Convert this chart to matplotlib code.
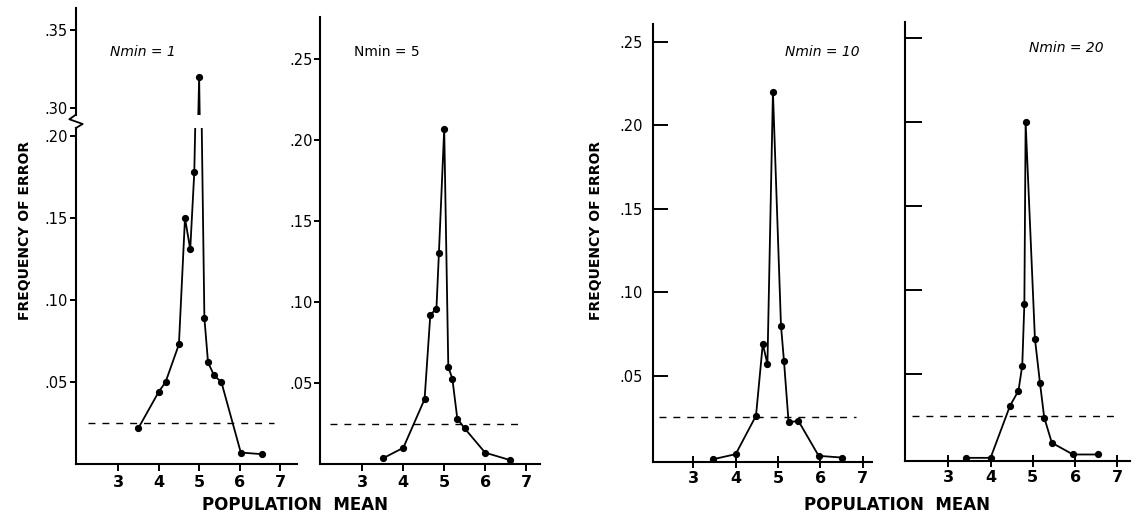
import matplotlib
matplotlib.use('Agg')
import matplotlib.pyplot as plt
from matplotlib.lines import Line2D

# ---- data ----
n1_x = [3.5, 4.0, 4.17, 4.5, 4.65, 4.78, 4.88, 5.0, 5.13, 5.22, 5.37, 5.55, 6.03, 6.55]
n1_y = [0.022, 0.044, 0.050, 0.073, 0.150, 0.131, 0.178, 0.320, 0.089, 0.062, 0.054, 0.050, 0.007, 0.006]

n5_x = [3.5, 4.0, 4.52, 4.66, 4.81, 4.87, 5.0, 5.1, 5.2, 5.32, 5.5, 6.0, 6.6]
n5_y = [0.0035, 0.010, 0.040, 0.092, 0.096, 0.130, 0.207, 0.060, 0.0525, 0.028, 0.022, 0.007, 0.0025]

n10_x = [3.47, 4.0, 4.48, 4.64, 4.75, 4.88, 5.07, 5.14, 5.25, 5.48, 5.96, 6.5]
n10_y = [0.0, 0.003, 0.026, 0.069, 0.057, 0.220, 0.080, 0.059, 0.022, 0.023, 0.002, 0.001]

n20_x = [3.42, 4.0, 4.46, 4.66, 4.75, 4.80, 4.83, 5.05, 5.17, 5.27, 5.45, 5.95, 6.55]
n20_y = [0.0, 0.0, 0.031, 0.040, 0.055, 0.092, 0.200, 0.071, 0.0445, 0.024, 0.009, 0.002, 0.002]

labels = ['Nmin = 1', 'Nmin = 5', 'Nmin = 10', 'Nmin = 20']
threshold = 0.025
dash_spans = [(2.25, 6.85), (2.2, 6.8), (2.2, 6.85), (2.15, 7.0)]
x_ticks = [3, 4, 5, 6, 7]
y_ticks = [0.05, 0.10, 0.15, 0.20, 0.25]
y_ticks_top = [0.30, 0.35]

W, H = 1133, 528
fig = plt.figure(figsize=(W / 100, H / 100), dpi=100)


def px_axes(left, top, right, bottom):
    """add axes from pixel box (origin top-left)"""
    return fig.add_axes([left / W, 1 - bottom / H, (right - left) / W, (bottom - top) / H])


def fmt(v):
    return ('%.2f' % v)[1:]


def style(ax, ydir='out', ylen=4, ypad=2, xdir='out', xlen=5):
    for s in ('top', 'right'):
        ax.spines[s].set_visible(False)
    for s in ('left', 'bottom'):
        ax.spines[s].set_linewidth(1.5)
    ax.tick_params(axis='y', direction=ydir, length=ylen, width=1.4, pad=ypad, labelsize=10.5)
    ax.tick_params(axis='x', direction=xdir, length=xlen, width=1.4, pad=3, labelsize=11.5)
    for t in ax.get_xticklabels():
        t.set_fontweight('bold')


def draw(ax, xs, ys, span):
    ax.plot(xs, ys, color='black', lw=1.3, marker='o', ms=4.2, zorder=3)
    ax.plot(span, [threshold, threshold], color='black', lw=1.0, ls=(0, (5, 5)))


# ---- panel 1 (broken axis) ----
ax1 = px_axes(76, 128, 297, 464)
ax1u = px_axes(76, 8, 297, 115)
for a in (ax1, ax1u):
    draw(a, n1_x, n1_y, dash_spans[0])
    a.set_xlim(1.955, 7.42)
ax1.set_ylim(0, 0.205)
ax1u.set_ylim(0.2955, 0.364)
ax1.set_yticks(y_ticks[:4])
ax1.set_yticklabels([fmt(v) for v in y_ticks[:4]])
ax1u.set_yticks(y_ticks_top)
ax1u.set_yticklabels([fmt(v) for v in y_ticks_top])
ax1.set_xticks(x_ticks)
style(ax1)
style(ax1u)
ax1u.spines['bottom'].set_visible(False)
ax1u.set_xticks([])
zig = Line2D([0, 0.03, -0.03, 0], [1.0, 1.012, 1.026, 1.04], transform=ax1.transAxes,
             color='black', lw=1.3, clip_on=False)
ax1.add_line(zig)

# ---- panel 2 ----
ax2 = px_axes(320, 17, 540, 464)
draw(ax2, n5_x, n5_y, dash_spans[1])
ax2.set_xlim(1.963, 7.342)
ax2.set_ylim(0, 0.276)
ax2.set_yticks(y_ticks)
ax2.set_yticklabels([fmt(v) for v in y_ticks])
ax2.set_xticks(x_ticks)
style(ax2, ylen=4, ypad=1)

# ---- panel 3 ----
ax3 = px_axes(652.7, 24, 871.7, 461.7)
draw(ax3, n10_x, n10_y, dash_spans[2])
ax3.set_xlim(2.041, 7.212)
ax3.set_ylim(-0.0015, 0.2606)
ax3.set_yticks(y_ticks)
ax3.set_yticklabels([fmt(v) for v in y_ticks])
ax3.set_xticks(x_ticks)
style(ax3, ydir='in', ylen=11, ypad=7, xdir='inout', xlen=8)

# ---- panel 4 ----
ax4 = px_axes(905, 21.7, 1130, 460.7)
draw(ax4, n20_x, n20_y, dash_spans[3])
ax4.set_xlim(1.975, 7.30)
ax4.set_ylim(-0.0017, 0.26)
ax4.set_yticks(y_ticks)
ax4.set_yticklabels([])
ax4.set_xticks(x_ticks)
style(ax4, ydir='in', ylen=12, ypad=7, xdir='inout', xlen=8)

# ---- texts ----
fig.text(143 / W, 1 - 52 / H, labels[0], ha='center', va='center', fontsize=10, style='italic')
fig.text(387 / W, 1 - 52 / H, labels[1], ha='center', va='center', fontsize=10)
fig.text(822 / W, 1 - 52 / H, labels[2], ha='center', va='center', fontsize=10, style='italic')
fig.text(1066 / W, 1 - 48 / H, labels[3], ha='center', va='center', fontsize=10, style='italic')

for xc in (25, 596):
    fig.text(xc / W, 1 - 230 / H, 'FREQUENCY OF ERROR', rotation=90, ha='center', va='center',
             fontsize=10, fontweight='bold')
for xc in (295, 897):
    fig.text(xc / W, 1 - 505 / H, 'POPULATION  MEAN', ha='center', va='center',
             fontsize=12, fontweight='bold')

fig.savefig('out.png', dpi=100)
